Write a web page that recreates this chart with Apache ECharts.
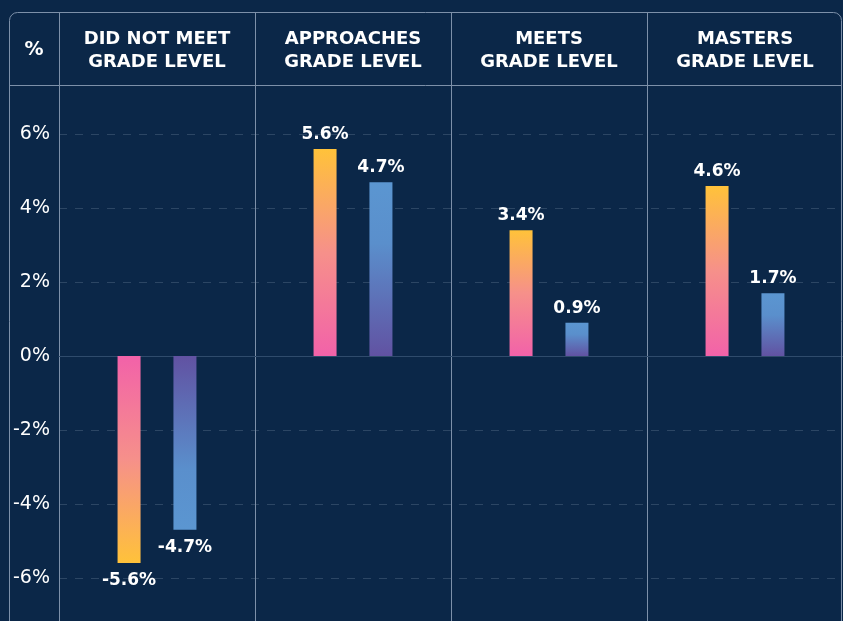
<!DOCTYPE html>
<html><head><meta charset="utf-8">
<script src="https://cdn.jsdelivr.net/npm/echarts@6/dist/echarts.min.js"></script>
<style>html,body{margin:0;padding:0;background:#0b2748}#c{width:843px;height:621px}</style>
</head><body><div id="c"></div>
<script>
const categories = ['DID NOT MEET\nGRADE LEVEL', 'APPROACHES\nGRADE LEVEL', 'MEETS\nGRADE LEVEL', 'MASTERS\nGRADE LEVEL'];
const seriesA = [-5.6, 5.6, 3.4, 4.6];
const seriesB = [-4.7, 4.7, 0.9, 1.7];
const yTicks = [-6, -4, -2, 0, 2, 4, 6];

const FONT = 'DejaVu Sans';
const LINE = '#7d90a9';
const chart = echarts.init(document.getElementById('c'), null, {renderer: 'canvas'});

function item(v, stopsPos) {
  const pos = v >= 0;
  const stops = pos ? stopsPos : stopsPos.map(s => ({offset: 1 - s.offset, color: s.color})).reverse();
  return {
    value: v,
    itemStyle: {color: new echarts.graphic.LinearGradient(0, 0, 0, 1, stops)},
    label: {position: pos ? 'top' : 'bottom', distance: pos ? 6 : 9}
  };
}
const warm = [{offset: 0, color: '#ffc23a'}, {offset: 0.5, color: '#f6908a'}, {offset: 1, color: '#f262a9'}];
const cool = [{offset: 0, color: '#5b96d1'}, {offset: 0.35, color: '#5a8fcc'}, {offset: 1, color: '#6152a2'}];

const gridLeft = 59, gridWidth = 784;
const headerLines = [];
for (let i = 0; i < 4; i++) {
  const x = Math.round(gridLeft + i * gridWidth / 4) + 0.5;
  headerLines.push({type: 'line', z: 10, shape: {x1: x, y1: 12, x2: x, y2: 88}, style: {stroke: LINE, lineWidth: 1}});
}

const labelStyle = {show: true, color: '#fff', fontFamily: FONT, fontWeight: 'bold', fontSize: 17, formatter: p => p.value + '%'};

chart.setOption({
  backgroundColor: '#0b2748',
  animation: false,
  grid: {left: gridLeft, width: gridWidth, top: 88, height: 536, outerBoundsMode: 'none', containLabel: false},
  xAxis: [
    {type: 'category', data: categories, position: 'top',
     axisLine: {show: false, onZero: false}, axisTick: {show: false},
     axisLabel: {interval: 0, color: '#fff', fontFamily: FONT, fontWeight: 'bold', fontSize: 18, lineHeight: 23, margin: 14},
     splitLine: {show: true, interval: 0, lineStyle: {color: LINE, width: 1}}},
    {type: 'category', data: categories, position: 'bottom',
     axisLine: {show: true, onZero: true, lineStyle: {color: '#2f4b6c', width: 1}},
     axisTick: {show: false}, axisLabel: {show: false}, splitLine: {show: false}}
  ],
  yAxis: {type: 'value', min: -7.25, max: 7.25,
    axisLine: {show: false},
    axisTick: {show: false, customValues: yTicks},
    axisLabel: {customValues: yTicks, formatter: '{value}%', color: '#fff', fontFamily: FONT, fontSize: 19, margin: 9},
    splitLine: {show: true, lineStyle: {color: '#2c4664', width: 1, type: [8, 8]}}
  },
  series: [
    {type: 'bar', xAxisIndex: 0, data: seriesA.map(v => item(v, warm)), barWidth: 23, barGap: '143%', label: labelStyle},
    {type: 'bar', xAxisIndex: 0, data: seriesB.map(v => item(v, cool)), barWidth: 23, barGap: '143%', label: labelStyle}
  ],
  graphic: [
    {type: 'rect', z: 10, shape: {x: 9.5, y: 12.5, width: 832, height: 700, r: 8}, style: {fill: 'none', stroke: LINE, lineWidth: 1}},
    {type: 'line', z: 10, shape: {x1: 9.5, y1: 85.5, x2: 841.5, y2: 85.5}, style: {stroke: LINE, lineWidth: 1}},
    ...headerLines,
    {type: 'text', z: 10, x: 34, y: 50, style: {text: '%', fill: '#fff', font: 'bold 19px "DejaVu Sans"', align: 'center', verticalAlign: 'middle'}}
  ]
});
</script></body></html>
